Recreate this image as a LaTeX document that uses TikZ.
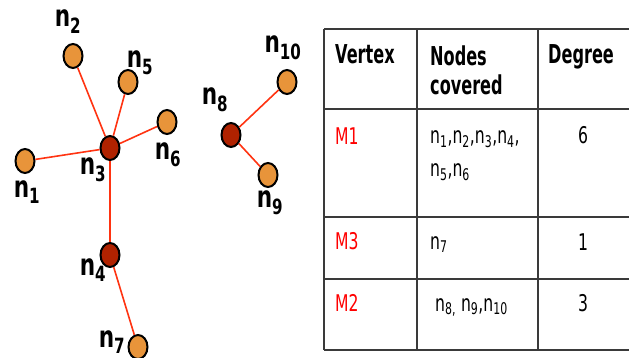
\documentclass[tikz,border=0pt]{standalone}
\usepackage{fontspec}
\usetikzlibrary{shapes.geometric}
\newfontfamily\lblfont[FakeStretch=0.72]{DejaVu Sans}
\newfontfamily\headfont[FakeStretch=0.62]{DejaVu Sans}
\newfontfamily\cellfont[FakeStretch=0.68]{DejaVu Sans}
\definecolor{nodeorange}{HTML}{E8943A}
\definecolor{nodered}{HTML}{B02200}
\definecolor{edgered}{HTML}{FF3311}
\definecolor{gridgray}{HTML}{3A3A3A}
\definecolor{vertred}{HTML}{FF0000}
\tikzset{
  leaf/.style={ellipse,draw=black,line width=2pt,fill=nodeorange,
    minimum width=19pt,minimum height=24pt,inner sep=0pt},
  hub/.style={leaf,fill=nodered},
  lbl/.style={font=\lblfont\bfseries\fontsize{30}{30}\selectfont,inner sep=0pt},
  edge/.style={edgered,line width=1.6pt},
  grid/.style={gridgray,line width=1.5pt},
  head/.style={font=\headfont\bfseries\fontsize{26}{29}\selectfont,inner sep=0pt},
  cell/.style={font=\cellfont\fontsize{23}{33}\selectfont,inner sep=0pt},
}
\begin{document}
\begin{tikzpicture}[x=1pt,y=-1pt]
  \useasboundingbox (0,0) rectangle (629,358);

  % 顶点
  \node[leaf] (n1) at (25,161) {};
  \node[leaf] (n2) at (73,56) {};
  \node[hub]  (n3) at (110,148) {};
  \node[hub]  (n4) at (110,255) {};
  \node[leaf] (n5) at (128,82) {};
  \node[leaf] (n6) at (167,122) {};
  \node[leaf] (n7) at (138,347) {};
  \node[hub]  (n8) at (231,135) {};
  \node[leaf] (n9) at (268,175) {};
  \node[leaf] (n10) at (287,82) {};

  % 边
  \foreach \a/\b in {3/1,3/2,3/5,3/6,3/4,4/7,8/9,8/10}
    \draw[edge] (n\a) -- (n\b);

  % 标签
  \node[lbl] (l1) at (27,192) {n\textsubscript{1}};
  \node[lbl] (l2) at (68,22) {n\textsubscript{2}};
  \node[lbl] (l3) at (93,170) {n\textsubscript{3}};
  \node[lbl] (l4) at (93,270) {n\textsubscript{4}};
  \node[lbl] (l5) at (140,63) {n\textsubscript{5}};
  \node[lbl] (l6) at (168,155) {n\textsubscript{6}};
  \node[lbl] (l7) at (112,342) {n\textsubscript{7}};
  \node[lbl] (l8) at (215,100) {n\textsubscript{8}};
  \node[lbl] (l9) at (270,203) {n\textsubscript{9}};
  \node[lbl] (l10) at (283,48) {n\textsubscript{10}};

  % 表格
  \foreach \y in {29,109,217,279,350}
    \draw[grid] (324,\y) -- (629,\y);
  \foreach \x in {324,417,538}
    \draw[grid] (\x,29) -- (\x,350);

  \node[head,anchor=base west] (hvert) at (335,63.5) {Vertex};
  \node[head,anchor=west,align=left] (hnodes) at (430,70.5) {Nodes\\covered};
  \node[head,anchor=base west] (hdeg) at (548,64) {Degree};

  \node[cell,anchor=base west,text=vertred] (m1) at (335,144.5) {M1};
  \node[cell,anchor=west,align=left] (c1) at (430,155.5)
    {n\textsubscript{1},n\textsubscript{2},n\textsubscript{3},n\textsubscript{4},\\n\textsubscript{5},n\textsubscript{6}};
  \node[cell,anchor=base] (d1) at (583,144) {6};

  \node[cell,anchor=base west,text=vertred] (m3) at (335,249.5) {M3};
  \node[cell,anchor=base west] (c3) at (430,249) {n\textsubscript{7}};
  \node[cell,anchor=base] (d3) at (583,251) {1};

  \node[cell,anchor=base west,text=vertred] (m2) at (335,311.5) {M2};
  \node[cell,anchor=base west] (c2) at (435,311)
    {n\textsubscript{8,} n\textsubscript{9},n\textsubscript{10}};
  \node[cell,anchor=base] (d2) at (583,311.5) {3};
\end{tikzpicture}
\end{document}
